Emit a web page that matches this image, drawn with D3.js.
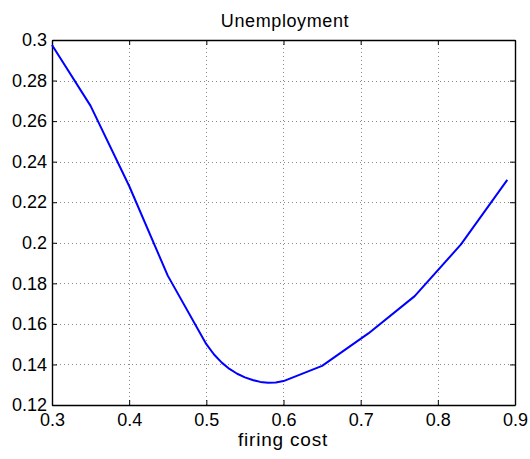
<!DOCTYPE html>
<html>
<head>
<meta charset="utf-8">
<script src="https://cdn.jsdelivr.net/npm/d3@7"></script>
<style>
  html, body { margin: 0; padding: 0; background: #fff; }
  svg { display: block; }
  text { font-family: "Liberation Sans", Arial, Helvetica, sans-serif; fill: #000; }
</style>
</head>
<body>
<svg id="chart" width="530" height="459"></svg>
<script>
const firingCost   = [0.30, 0.35, 0.40, 0.45, 0.50, 0.51, 0.52, 0.53, 0.54, 0.55, 0.56, 0.57, 0.58, 0.59, 0.60, 0.65, 0.71, 0.77, 0.83, 0.89];
const unemployment = [0.2975, 0.2675, 0.2280, 0.1838, 0.1500, 0.1449, 0.1409, 0.1378, 0.1354, 0.1336, 0.1323, 0.1314, 0.1310, 0.1311, 0.1318, 0.1393, 0.1553, 0.1737, 0.1992, 0.2310];
const xTicks = [0.3, 0.4, 0.5, 0.6, 0.7, 0.8, 0.9];
const yTicks = [0.12, 0.14, 0.16, 0.18, 0.2, 0.22, 0.24, 0.26, 0.28, 0.3];
const titleText = "Unemployment";
const xLabelText = "firing cost";

const svg = d3.select("#chart");
const L = 52, R = 515, T = 40, B = 405;
const x = d3.scaleLinear().domain([0.3, 0.9]).range([L, R]);
const y = d3.scaleLinear().domain([0.12, 0.3]).range([B, T]);
const fmt = d => String(+d.toFixed(2));

// grid
const grid = svg.append("g").attr("stroke", "#8c8c8c").attr("stroke-width", 1).attr("stroke-dasharray", "1,3");
grid.selectAll("line.vx").data(xTicks.slice(1, -1)).join("line")
  .attr("x1", d => Math.round(x(d)) + 0.5).attr("x2", d => Math.round(x(d)) + 0.5)
  .attr("y1", T).attr("y2", B);
grid.selectAll("line.hy").data(yTicks.slice(1, -1)).join("line")
  .attr("y1", d => Math.round(y(d)) + 0.5).attr("y2", d => Math.round(y(d)) + 0.5)
  .attr("x1", L).attr("x2", R);

// axes
const fontSize = "18px";
const axB = svg.append("g").attr("transform", `translate(0,${B})`)
  .call(d3.axisBottom(x).tickValues(xTicks).tickSizeInner(-5).tickSizeOuter(0).tickPadding(10).tickFormat(fmt));
const axT = svg.append("g").attr("transform", `translate(0,${T})`)
  .call(d3.axisTop(x).tickValues(xTicks).tickSizeInner(-5).tickSizeOuter(0).tickFormat(""));
const axL = svg.append("g").attr("transform", `translate(${L},0)`)
  .call(d3.axisLeft(y).tickValues(yTicks).tickSizeInner(-5).tickSizeOuter(0).tickPadding(10).tickFormat(fmt));
const axR = svg.append("g").attr("transform", `translate(${R},0)`)
  .call(d3.axisRight(y).tickValues(yTicks).tickSizeInner(-5).tickSizeOuter(0).tickFormat(""));
[axB, axT, axL, axR].forEach(a => {
  a.selectAll(".domain").attr("stroke", "#000").attr("stroke-width", 1.4);
  a.selectAll(".tick line").attr("stroke", "#000").attr("stroke-width", 1);
  a.selectAll("text").attr("font-size", fontSize).attr("font-family", "Liberation Sans, Arial, sans-serif").attr("fill", "#000");
});
axB.selectAll("text").attr("dy", "0.71em").attr("y", 8);
axL.selectAll("text").attr("x", -5);

// line
svg.append("path")
  .datum(firingCost.map((c, i) => [c, unemployment[i]]))
  .attr("fill", "none").attr("stroke", "#0000ff").attr("stroke-width", 2)
  .attr("stroke-linejoin", "round")
  .attr("d", d3.line().x(d => x(d[0])).y(d => y(d[1])));

// title and label
svg.append("text").attr("x", 285).attr("y", 27).attr("text-anchor", "middle")
  .attr("font-size", fontSize).attr("letter-spacing", "0.6px").text(titleText);
svg.append("text").attr("x", 283).attr("y", 446).attr("text-anchor", "middle")
  .attr("font-size", "19px").attr("letter-spacing", "0.8px").text(xLabelText);
</script>
</body>
</html>
